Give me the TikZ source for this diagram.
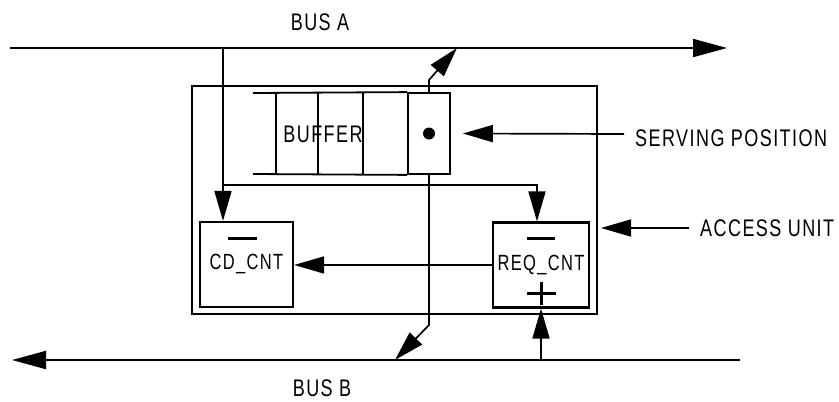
\documentclass[tikz,border=0pt]{standalone}
\usepackage{fontspec}
\usepackage{tikz}
\usetikzlibrary{arrows.meta, positioning, calc}
\newfontfamily\cadfont{Liberation Sans}[FakeStretch=0.75, LetterSpace=6]
\tikzset{
  %% ---- boxes ----
  unitbox/.style = {rectangle, draw, line width=2.6pt, inner sep=0pt,
                    minimum width=405pt, minimum height=228pt},
  cntbox/.style  = {rectangle, draw, line width=2.2pt, inner sep=0pt,
                    minimum width=#1, minimum height=85pt,
                    font=\cadfont\fontsize{22}{26}\selectfont},
  cntbox/.default = 93pt,
  cellbox/.style = {rectangle, draw, line width=1.8pt, inner sep=0pt,
                    minimum width=42pt, minimum height=81pt},
  tag/.style     = {inner sep=0pt, font=\cadfont\fontsize{24}{28}\selectfont},
  %% ---- lines ----
  bufline/.style = {line width=1.8pt},
  wire/.style    = {line width=1.6pt},
  sign/.style    = {line width=3pt},
  %% ---- arrows ----
  busline/.style = {-{Triangle[length=34pt,width=18pt]}, line width=2pt},
  arrow/.style   = {-{Triangle[length=30pt,width=17pt]}, line width=1.7pt},
}
\begin{document}
\begin{tikzpicture}[x=1pt, y=-1pt]
  \useasboundingbox (0,0) rectangle (839,402);

  %% Buses
  \coordinate (busAwest) at (10,48);
  \coordinate (busAeast) at (727,48);
  \coordinate (busBeast) at (740,360);
  \coordinate (busBwest) at (12,360);
  \draw[busline] (busAwest) -- (busAeast);
  \draw[busline] (busBeast) -- (busBwest);
  \node[tag] (busAtag) at (320,22) {BUS\ A};
  \node[tag] (busBtag) at (322,388) {BUS\ B};

  %% Access unit
  \node[unitbox] (unit) at (394.5,200) {};

  %% Buffer (open at the left end)
  \node[cellbox] (serve) at (429,133.5) {};
  \draw[bufline] (253,93) -- (serve.north west)
                 (253,174) -- (serve.south west);
  \foreach \x in {276,318,363}
    \draw[bufline] (\x,93) -- (\x,174);
  \node[tag] (buftag) at (323,134) {BUFFER};
  \fill (serve.center) circle (6pt);

  %% Counters
  \node[cntbox=93pt] (cd) at (246.5,264.5) {CD\_CNT};
  \node[cntbox=96pt] (req) at (541,265) {REQ\_CNT};
  \draw[sign] (228,238) -- (257,238);
  \draw[sign] (527,238) -- (555,238);
  \draw[sign] (527,293) -- (556,293) (541,282) -- (541,305);

  %% Taps on bus A
  \coordinate (tapA) at (223,48);
  \coordinate (split) at (223,185);
  \draw[arrow] (tapA) -- (tapA |- cd.north);
  \draw[arrow] (split) -| ([xshift=-4pt]req.north);
  \draw[arrow] (req.west) -- (req.west -| cd.east);

  %% Serving position to the buses
  \coordinate (upbend) at (429,80);
  \coordinate (tapAout) at (457,48);
  \draw[arrow] (serve.north) -- (upbend) -- (tapAout);
  \coordinate (downbend) at (429,325);
  \coordinate (tapBin) at (395,360);
  \draw[arrow] (serve.south) -- (downbend) -- (tapBin);
  \coordinate (tapBout) at (541,360);
  \draw[arrow] (tapBout) -- (req.south);

  %% Side labels
  \node[tag, anchor=west] (servtag) at (635,138) {SERVING POSITION};
  \coordinate (servfrom) at (624,134);
  \draw[arrow] (servfrom) -- ([xshift=12pt]serve.east);
  \node[tag, anchor=west] (unittag) at (700,228) {ACCESS UNIT};
  \coordinate (unitfrom) at (689,228);
  \coordinate (unitedge) at (601,228);
  \draw[arrow] (unitfrom) -- (unitedge);

\end{tikzpicture}
\end{document}
